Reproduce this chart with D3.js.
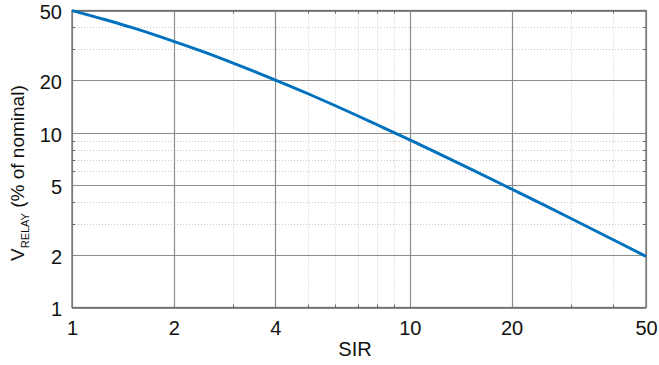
<!DOCTYPE html>
<html>
<head>
<meta charset="utf-8">
<script src="https://cdn.jsdelivr.net/npm/d3@7"></script>
<style>
  html, body { margin: 0; padding: 0; background: #fff; }
  svg { display: block; }
  text { font-family: "Liberation Sans", Arial, sans-serif; fill: #111; }
</style>
</head>
<body>
<svg id="chart" width="659" height="365"></svg>
<script>
// Data
const sir = [1, 1.25, 1.5, 2, 2.5, 3, 4, 5, 6, 7, 8, 10, 12, 15, 20, 25, 30, 40, 50];
const vRelay = [50, 44.4, 40, 33.3, 28.6, 25, 20, 16.7, 14.3, 12.5, 11.1, 9.09, 7.69, 6.25, 4.76, 3.85, 3.23, 2.44, 1.96];
const xTicks = [1, 2, 4, 10, 20, 50];
const yTicks = [1, 2, 5, 10, 20, 50];
const xMinor = [3, 5, 6, 7, 8, 9, 30, 40];
const yMinor = [3, 4, 6, 7, 8, 9, 30, 40];

const svg = d3.select("#chart");
const L = 72, R = 646, T = 10.5, B = 307.5;

const x = d3.scaleLog().domain([1, 50]).range([L, R]);
const y = d3.scaleLog().domain([1, 50]).range([B, T]);

const g = svg.append("g");

// minor dotted grid
g.selectAll(".xminor").data(xMinor).join("line")
  .attr("x1", d => Math.round(x(d)) + 0.5).attr("x2", d => Math.round(x(d)) + 0.5)
  .attr("y1", T).attr("y2", B)
  .attr("stroke", "#c8c8c8").attr("stroke-width", 1).attr("stroke-dasharray", "1,2");
g.selectAll(".yminor").data(yMinor).join("line")
  .attr("y1", d => Math.round(y(d)) + 0.5).attr("y2", d => Math.round(y(d)) + 0.5)
  .attr("x1", L).attr("x2", R)
  .attr("stroke", "#c8c8c8").attr("stroke-width", 1).attr("stroke-dasharray", "1,2");

// major grid
g.selectAll(".xmaj").data(xTicks).join("line")
  .attr("x1", d => Math.round(x(d)) + 0.5).attr("x2", d => Math.round(x(d)) + 0.5)
  .attr("y1", T).attr("y2", B)
  .attr("stroke", "#8c8c8c").attr("stroke-width", 1.2);
g.selectAll(".ymaj").data(yTicks).join("line")
  .attr("y1", d => Math.round(y(d)) + 0.5).attr("y2", d => Math.round(y(d)) + 0.5)
  .attr("x1", L).attr("x2", R)
  .attr("stroke", "#8c8c8c").attr("stroke-width", 1.2);

// minor tick marks on frame
const tk = 3;
xMinor.forEach(d => {
  const xx = Math.round(x(d)) + 0.5;
  g.append("line").attr("x1", xx).attr("x2", xx).attr("y1", B).attr("y2", B - tk).attr("stroke", "#666");
  g.append("line").attr("x1", xx).attr("x2", xx).attr("y1", T).attr("y2", T + tk).attr("stroke", "#666");
});
yMinor.forEach(d => {
  const yy = Math.round(y(d)) + 0.5;
  g.append("line").attr("y1", yy).attr("y2", yy).attr("x1", L).attr("x2", L + tk).attr("stroke", "#666");
  g.append("line").attr("y1", yy).attr("y2", yy).attr("x1", R).attr("x2", R - tk).attr("stroke", "#666");
});

// frame
g.append("rect").attr("x", L).attr("y", T).attr("width", R - L).attr("height", B - T)
  .attr("fill", "none").attr("stroke", "#707070").attr("stroke-width", 1.3);

// curve
const line = d3.line().x((d, i) => x(sir[i])).y((d, i) => y(vRelay[i])).curve(d3.curveMonotoneX);
g.append("path").datum(vRelay).attr("d", line)
  .attr("fill", "none").attr("stroke", "#0072BD").attr("stroke-width", 2.9);

// axes labels (ticks)
const xAxis = d3.axisBottom(x).tickValues(xTicks).tickFormat(d3.format("d")).tickSize(0).tickPadding(13);
const xa = svg.append("g").attr("transform", `translate(0,${B})`).call(xAxis);
xa.select(".domain").remove();
xa.selectAll("text").attr("font-size", 20).attr("font-family", "Liberation Sans, Arial, sans-serif").attr("fill", "#111");

const yAxis = d3.axisLeft(y).tickValues(yTicks).tickFormat(d3.format("d")).tickSize(0).tickPadding(10);
const ya = svg.append("g").attr("transform", `translate(${L},0)`).call(yAxis);
ya.select(".domain").remove();
ya.selectAll("text").attr("font-size", 20).attr("font-family", "Liberation Sans, Arial, sans-serif").attr("fill", "#111").attr("dy", "0.42em");

// axis titles
svg.append("text").attr("x", 355).attr("y", 356).attr("text-anchor", "middle")
  .attr("font-size", 20).text("SIR");

const yt = svg.append("text").attr("transform", "translate(24,261) rotate(-90)")
  .attr("text-anchor", "start").attr("font-size", 19);
yt.append("tspan").text("V");
yt.append("tspan").attr("font-size", 11).attr("dy", 5).text("RELAY");
yt.append("tspan").attr("dy", -5).text(" (% of nominal)");
</script>
</body>
</html>
